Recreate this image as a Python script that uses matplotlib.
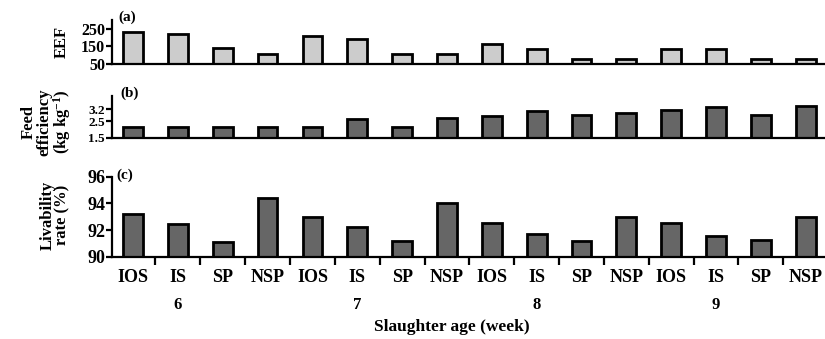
import matplotlib
matplotlib.use("Agg")
import matplotlib.pyplot as plt
import matplotlib.transforms as mtrans
import numpy as np

plt.rcParams['font.family'] = ['Liberation Serif', 'DejaVu Serif']
plt.rcParams['font.weight'] = 'bold'
plt.rcParams['mathtext.fontset'] = 'custom'
plt.rcParams['mathtext.rm'] = 'Liberation Serif:bold'
plt.rcParams['mathtext.bf'] = 'Liberation Serif:bold'
plt.rcParams['mathtext.it'] = 'Liberation Serif:bold'

# data
categories = ["IOS", "IS", "SP", "NSP"] * 4
ages = ["6", "7", "8", "9"]
eef = [233, 220, 143, 107, 210, 193, 107, 107, 162, 137, 79, 79, 137, 137, 79, 79]
feed_eff = [2.16, 2.16, 2.16, 2.16, 2.16, 2.60, 2.16, 2.66,
            2.82, 3.10, 2.86, 2.98, 3.16, 3.32, 2.86, 3.38]
livability = [93.2, 92.45, 91.1, 94.4, 93.0, 92.25, 91.15, 94.0,
              92.5, 91.7, 91.15, 93.0, 92.5, 91.55, 91.25, 92.95]

x = np.arange(len(categories))
W, H = 825, 339
fig = plt.figure(figsize=(W / 100, H / 100), dpi=100)

def add_ax(top_px, bottom_px):
    return fig.add_axes([112 / W, 1 - bottom_px / H, (W - 112) / W, (bottom_px - top_px) / H])

ax_a = add_ax(20, 64)
ax_b = add_ax(96, 137.7)
ax_c = add_ax(176.7, 256.7)

for ax in (ax_a, ax_b, ax_c):
    for s in ("top", "right"):
        ax.spines[s].set_visible(False)
    for s in ("left", "bottom"):
        ax.spines[s].set_linewidth(1.6)
    ax.set_xlim(-0.47, 15.43)
    ax.tick_params(axis="y", direction="out", length=4, width=1.6, pad=1)

ax_a.bar(x, np.array(eef) - 50, bottom=50, width=0.44, color="#cccccc", edgecolor="black", linewidth=2)
ax_a.set_ylim(50, 300)
ax_a.set_yticks([50, 150, 250])
ax_a.tick_params(axis="y", labelsize=11.5)
ax_a.set_xticks([])

ax_b.bar(x, np.array(feed_eff) - 1.5, bottom=1.5, width=0.44, color="#666666", edgecolor="black", linewidth=2)
ax_b.set_ylim(1.5, 4.0)
ax_b.set_yticks([1.5, 2.5, 3.2])
ax_b.set_yticklabels(["1.5", "2.5", "3.2"])
ax_b.tick_params(axis="y", labelsize=9.5)
ax_b.set_xticks([])

ax_c.bar(x, np.array(livability) - 90, bottom=90, width=0.44, color="#666666", edgecolor="black", linewidth=2)
ax_c.set_ylim(90, 96)
ax_c.set_yticks([90, 92, 94, 96])
ax_c.tick_params(axis="y", labelsize=13)
ax_c.set_xticks(x)
ax_c.set_xticklabels(categories)
ax_c.set_xticks(x[:-1] + 0.5, minor=True)
ax_c.tick_params(axis="x", which="major", length=0, pad=9, labelsize=13)
ax_c.tick_params(axis="x", which="minor", direction="out", length=6, width=1.6)

trans = mtrans.blended_transform_factory(ax_c.transData, ax_c.transAxes)
for i, a in enumerate(ages):
    ax_c.text(4 * i + 1, -0.60, a, transform=trans, ha="center", va="center", fontsize=12)

fig.text(452 / W, 1 - 327 / H, "Slaughter age (week)", ha="center", va="center", fontsize=12.5)

fig.text(118 / W, 1 - 17 / H, "(a)", ha="left", va="center", fontsize=11)
fig.text(120 / W, 1 - 93 / H, "(b)", ha="left", va="center", fontsize=11)
fig.text(116 / W, 1 - 175 / H, "(c)", ha="left", va="center", fontsize=11)

fig.text(62 / W, 1 - 42 / H, "EEF", rotation=90, ha="center", va="center", fontsize=12)
fig.text(47 / W, 1 - 122 / H, "Feed\nefficiency\n(kg kg$^{-1}$)", rotation=90,
         ha="center", va="center", fontsize=12, linespacing=0.95)
fig.text(55 / W, 1 - 215 / H, "Livability\nrate (%)", rotation=90,
         ha="center", va="center", fontsize=12, linespacing=0.95)

fig.savefig("out.png", dpi=100)
